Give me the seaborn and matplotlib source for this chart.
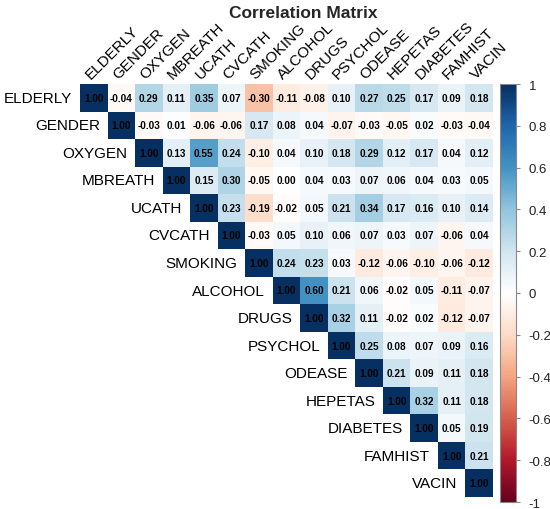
import numpy as np
import pandas as pd
import matplotlib
matplotlib.use("Agg")
import matplotlib.pyplot as plt
import seaborn as sns
from matplotlib.colors import LinearSegmentedColormap

labels = ["ELDERLY", "GENDER", "OXYGEN", "MBREATH", "UCATH", "CVCATH", "SMOKING",
          "ALCOHOL", "DRUGS", "PSYCHOL", "ODEASE", "HEPETAS", "DIABETES", "FAMHIST", "VACIN"]

# upper-triangle rows (from the diagonal to the right)
r_elderly  = [1.00, -0.04, 0.29, 0.11, 0.35, 0.07, -0.30, -0.11, -0.08, 0.10, 0.27, 0.25, 0.17, 0.09, 0.18]
r_gender   = [1.00, -0.03, 0.01, -0.06, -0.06, 0.17, 0.08, 0.04, -0.07, -0.03, -0.05, 0.02, -0.03, -0.04]
r_oxygen   = [1.00, 0.13, 0.55, 0.24, -0.10, 0.04, 0.10, 0.18, 0.29, 0.12, 0.17, 0.04, 0.12]
r_mbreath  = [1.00, 0.15, 0.30, -0.05, 0.00, 0.04, 0.03, 0.07, 0.06, 0.04, 0.03, 0.05]
r_ucath    = [1.00, 0.23, -0.19, -0.02, 0.05, 0.21, 0.34, 0.17, 0.16, 0.10, 0.14]
r_cvcath   = [1.00, -0.03, 0.05, 0.10, 0.06, 0.07, 0.03, 0.07, -0.06, 0.04]
r_smoking  = [1.00, 0.24, 0.23, 0.03, -0.12, -0.06, -0.10, -0.06, -0.12]
r_alcohol  = [1.00, 0.60, 0.21, 0.06, -0.02, 0.05, -0.11, -0.07]
r_drugs    = [1.00, 0.32, 0.11, -0.02, 0.02, -0.12, -0.07]
r_psychol  = [1.00, 0.25, 0.08, 0.07, 0.09, 0.16]
r_odease   = [1.00, 0.21, 0.09, 0.11, 0.18]
r_hepetas  = [1.00, 0.32, 0.11, 0.18]
r_diabetes = [1.00, 0.05, 0.19]
r_famhist  = [1.00, 0.21]
r_vacin    = [1.00]

rows = [r_elderly, r_gender, r_oxygen, r_mbreath, r_ucath, r_cvcath, r_smoking, r_alcohol,
        r_drugs, r_psychol, r_odease, r_hepetas, r_diabetes, r_famhist, r_vacin]

n = len(labels)
mat = np.full((n, n), np.nan)
for i, r in enumerate(rows):
    mat[i, i:] = r
df = pd.DataFrame(mat, index=labels, columns=labels)
mask = np.isnan(mat)

sns.set_style("white")
plt.rcParams["font.family"] = ["Liberation Sans", "DejaVu Sans"]

cmap = LinearSegmentedColormap.from_list(
    "corr_rdbu",
    ["#67001F", "#B2182B", "#D6604D", "#F4A582", "#FDDBC7", "#FFFFFF",
     "#D1E5F0", "#92C5DE", "#4393C3", "#2166AC", "#053061"], N=200)

fig = plt.figure(figsize=(5.5, 5.1), dpi=100)
ax = fig.add_axes([80 / 550, 1 - 498 / 510, 413 / 550, 413 / 510])
cax = fig.add_axes([500 / 550, 1 - 503 / 510, 16 / 550, 418 / 510])

sns.heatmap(df, mask=mask, cmap=cmap, vmin=-1, vmax=1, annot=True, fmt=".2f",
            annot_kws={"color": "black", "fontsize": 7.2, "fontweight": "bold"},
            cbar=True, cbar_ax=cax, square=False, linewidths=0, ax=ax,
            xticklabels=False, yticklabels=False)

ax.set_xlim(0, n)
ax.set_ylim(n, 0)
for s in ax.spines.values():
    s.set_visible(False)
ax.tick_params(left=False, bottom=False)
ax.set_xlabel("")
ax.set_ylabel("")

# row labels (left of diagonal)
for i, lab in enumerate(labels):
    ax.text(i - 0.28, i + 0.5, lab, ha="right", va="center", fontsize=11, color="black")
# column labels (top, rotated)
for j, lab in enumerate(labels):
    ax.text(j + 0.45, -0.1, lab, ha="left", va="bottom", rotation=45,
            rotation_mode="anchor", fontsize=11, color="black")

# colorbar
cb = ax.collections[0].colorbar
ticks = [1, 0.8, 0.6, 0.4, 0.2, 0, -0.2, -0.4, -0.6, -0.8, -1]
cb.set_ticks(ticks)
cb.set_ticklabels([("%g" % t) for t in ticks])
cax.tick_params(labelsize=9.5, length=3, color="#888888", width=0.8, pad=6, labelcolor="#222222")
cb.outline.set_edgecolor("#888888")
cb.outline.set_linewidth(0.8)

fig.text(303 / 550, 1 - 13 / 510, "Correlation Matrix", ha="center", va="center",
         fontsize=12.5, fontweight="bold")

fig.savefig("out.png", dpi=100)
